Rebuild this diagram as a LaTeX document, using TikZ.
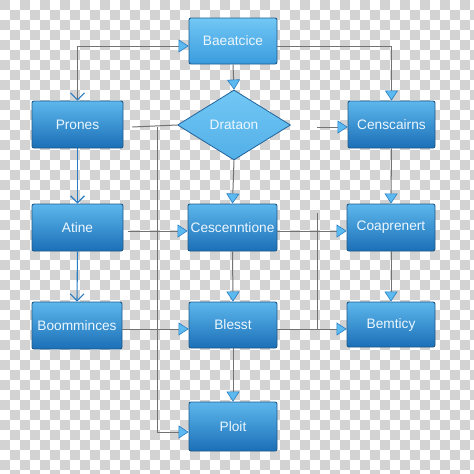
\documentclass[tikz,border=0pt]{standalone}
\usepackage{fontspec}
\setmainfont{Liberation Sans}
\usepackage{tikz}
\usetikzlibrary{positioning, arrows.meta, shapes.geometric}

\definecolor{chkgray}{HTML}{D3D3D3}
\definecolor{boxtop}{HTML}{5DB7EC}
\definecolor{boxbot}{HTML}{1B6FB7}
\definecolor{boxedge}{HTML}{1E5A8A}
\definecolor{headtop}{HTML}{72C8F5}
\definecolor{headbot}{HTML}{3A9BDD}
\definecolor{tipfill}{HTML}{5CBAF0}
\definecolor{tipedge}{HTML}{2A7DC2}
\definecolor{linegray}{HTML}{737373}
\definecolor{txtwhite}{HTML}{ECF7FF}

\begin{document}
\begin{tikzpicture}[x=1pt, y=-1pt,
    box/.style={rectangle, rounded corners=2pt, draw=boxedge, line width=0.9pt,
        top color=boxtop, bottom color=boxbot, text=txtwhite,
        font=\fontsize{13.7}{15}\selectfont, inner sep=0pt},
    headbox/.style={box, top color=headtop, bottom color=headbot},
    decision/.style={diamond, draw=tipedge!80!black, line width=0.8pt,
        top color=headtop, bottom color=tipfill!85!boxbot, text=txtwhite,
        font=\fontsize{13.7}{15}\selectfont, inner sep=0pt,
        minimum width=113pt, minimum height=70pt},
    con/.style={draw=linegray, line width=1pt},
    tri/.style={con, -{Triangle[width=13pt, length=10pt, fill=tipfill, color=tipedge, line width=0.6pt]}},
    chev/.style={draw=tipedge, line width=1.1pt, -{Straight Barb[width=14pt, length=7pt, color=tipedge]}}
    ]

% transparent-style backdrop
\useasboundingbox (0,0) rectangle (474,474);
\fill[white] (0,0) rectangle (474,474);
\begin{scope}
\clip (0,0) rectangle (474,474);
\foreach \i in {0,20,...,460} {
    \foreach \j in {0,20,...,460} {
        \fill[chkgray] (\i,\j) rectangle +(10,10);
        \fill[chkgray] (\i+10,\j+10) rectangle +(10,10);
    }
}
\end{scope}

% nodes
\node[headbox, minimum width=88pt, minimum height=46pt] (base) at (233,41) {Baeatcice};
\node[box, minimum width=91pt, minimum height=47pt] (prones) at (77.5,124.5) {Prones};
\node[decision] (drat) at (234,125) {Drataon};
\node[box, minimum width=87pt, minimum height=47pt] (censc) at (391.5,124.5) {Censcairns};

\node[box, minimum width=91pt, minimum height=47pt] (atine) at (77.5,227.5) {Atine};
\node[box, minimum width=89pt, minimum height=47pt] (cesc) at (232.5,227.5) {Cescenntione};
\node[box, minimum width=88pt, minimum height=47pt] (coapr) at (391,227.5) {Coaprenert};

\node[box, minimum width=90pt, minimum height=47pt] (boom) at (77,325.5) {Boomminces};
\node[box, minimum width=88pt, minimum height=46pt] (blesst) at (233,325) {Blesst};
\node[box, minimum width=88pt, minimum height=45pt] (bemt) at (391,324.5) {Bemticy};

\node[box, minimum width=88pt, minimum height=49pt] (ploit) at (233,426.5) {Ploit};

% junction points
\coordinate (jl) at (157,127);
\coordinate (jr) at (317,213);

% top row
\draw[con, {Straight Barb[width=14pt, length=7pt, color=tipedge]}-{Triangle[width=13pt, length=10pt, fill=tipfill, color=tipedge, line width=0.6pt]}]
    (prones.north) |- ([yshift=-5pt]base.west);
\draw[tri] ([yshift=-5pt]base.east) -| (censc.north);
\draw[tri] (base.south) -- (drat.north);
\draw[con] ([xshift=9pt, yshift=-2.5pt]prones.east) -- (drat.west);
\draw[tri] (jl) |- ([yshift=-5.5pt]ploit.west);
\draw[tri, shorten <=26pt] ([yshift=-2pt]drat.east) -- ([yshift=-2.5pt]censc.west);

% middle row
\draw[chev] (prones.south) -- (atine.north);
\draw[tri] (drat.south) -- (cesc.north);
\draw[tri] (censc.south) -- (coapr.north);
\draw[tri] ([xshift=5pt, yshift=-3.5pt]atine.east) -- ([yshift=-3.5pt]cesc.west);
\draw[tri] ([yshift=-3.5pt]cesc.east) -- ([yshift=-3.5pt]coapr.west);
\draw[con] (jr) -- (jr |- 0,329);

% lower rows
\draw[chev] (atine.south) -- (boom.north);
\draw[tri] (cesc.south) -- (blesst.north);
\draw[tri] (coapr.south) -- (bemt.north);
\draw[tri] ([yshift=-3.5pt]boom.east) -- ([yshift=-4pt]blesst.west);
\draw[tri] ([yshift=-4pt]blesst.east) -- ([yshift=-4.5pt]bemt.west);
\draw[tri] (blesst.south) -- (ploit.north);

\end{tikzpicture}
\end{document}
